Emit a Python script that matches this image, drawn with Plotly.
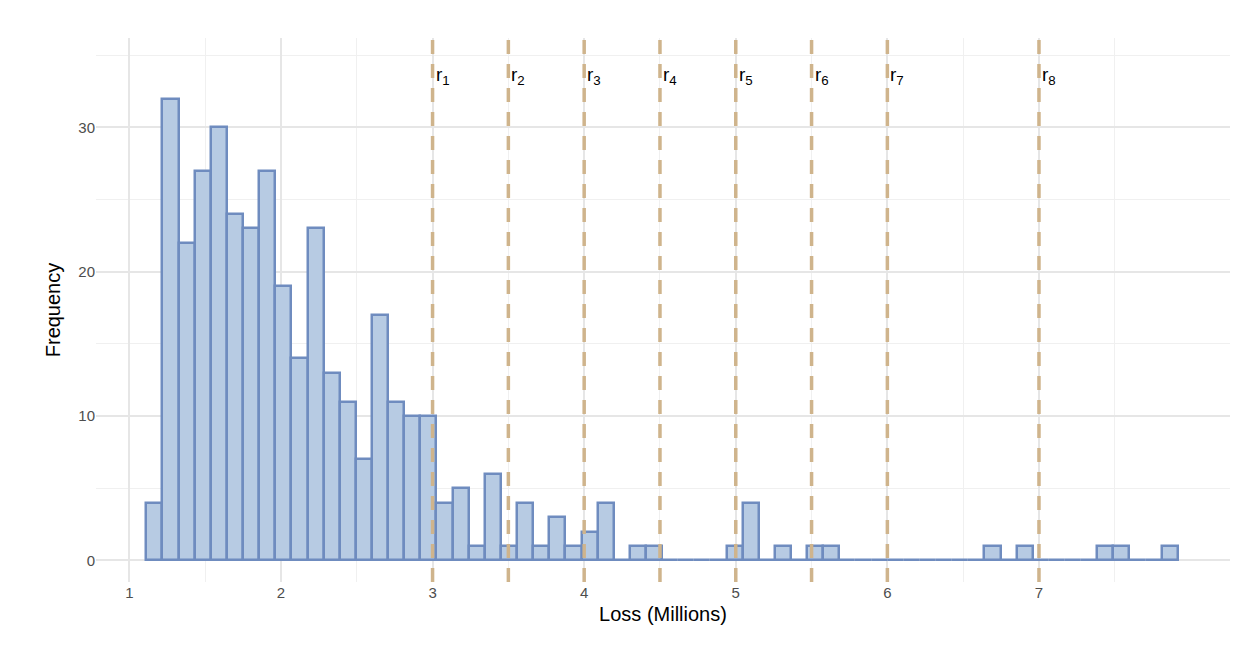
import plotly.graph_objects as go

# histogram counts, 64 bins
counts = [4, 32, 22, 27, 30, 24, 23, 27, 19, 14, 23, 13, 11, 7, 17, 11, 10, 10,
          4, 5, 1, 6, 1, 4, 1, 3, 1, 2, 4, 0, 1, 1, 0, 0, 0, 0,
          1, 4, 0, 1, 0, 1, 1, 0, 0, 0, 0, 0, 0, 0, 0, 0,
          1, 0, 1, 0, 0, 0, 0, 1, 1, 0, 0, 1]
bin_start = 1.1123
bin_width = 0.1063
centers = [bin_start + bin_width * (i + 0.5) for i in range(len(counts))]

r_vals = [3, 3.5, 4, 4.5, 5, 5.5, 6, 7]
r_labels = [f"r<sub>{i + 1}</sub>" for i in range(len(r_vals))]

fig = go.Figure(go.Bar(
    x=centers, y=counts, width=bin_width,
    marker=dict(color="#b7cbe3", line=dict(color="#6f8cbf", width=2.5)),
))

for v, lab in zip(r_vals, r_labels):
    fig.add_shape(type="line", x0=v, x1=v, y0=0, y1=1, yref="paper",
                  line=dict(color="#cfb48c", width=3.5, dash="14px,10px"))
    fig.add_annotation(x=v, y=33.6, text=lab, showarrow=False, xanchor="left",
                       xshift=1, font=dict(size=19, color="black"))

fig.update_layout(
    width=1256, height=662,
    margin=dict(l=88, r=34, t=30, b=88),
    plot_bgcolor="white", paper_bgcolor="white",
    font=dict(family="Liberation Sans", size=15, color="#4d4d4d"),
    showlegend=False, bargap=0,
    xaxis=dict(range=[0.78, 8.26], tickvals=[1, 2, 3, 4, 5, 6, 7],
               tickfont=dict(size=15, color="#4d4d4d"),
               showgrid=True, gridcolor="#e6e6e6", gridwidth=2, zeroline=False,
               minor=dict(tickvals=[1.5, 2.5, 3.5, 4.5, 5.5, 6.5, 7.5],
                          showgrid=True, gridcolor="#f0f0f0", gridwidth=1),
               title=dict(text="Loss (Millions)", font=dict(size=20, color="black"), standoff=6)),
    yaxis=dict(range=[-1.5, 36.2], tickvals=[0, 10, 20, 30],
               tickfont=dict(size=15, color="#4d4d4d"),
               showgrid=True, gridcolor="#e6e6e6", gridwidth=2, zeroline=False,
               minor=dict(tickvals=[5, 15, 25, 35],
                          showgrid=True, gridcolor="#f0f0f0", gridwidth=1),
               title=dict(text="Frequency", font=dict(size=20, color="black"), standoff=12)),
)

fig.write_html("out.html")
